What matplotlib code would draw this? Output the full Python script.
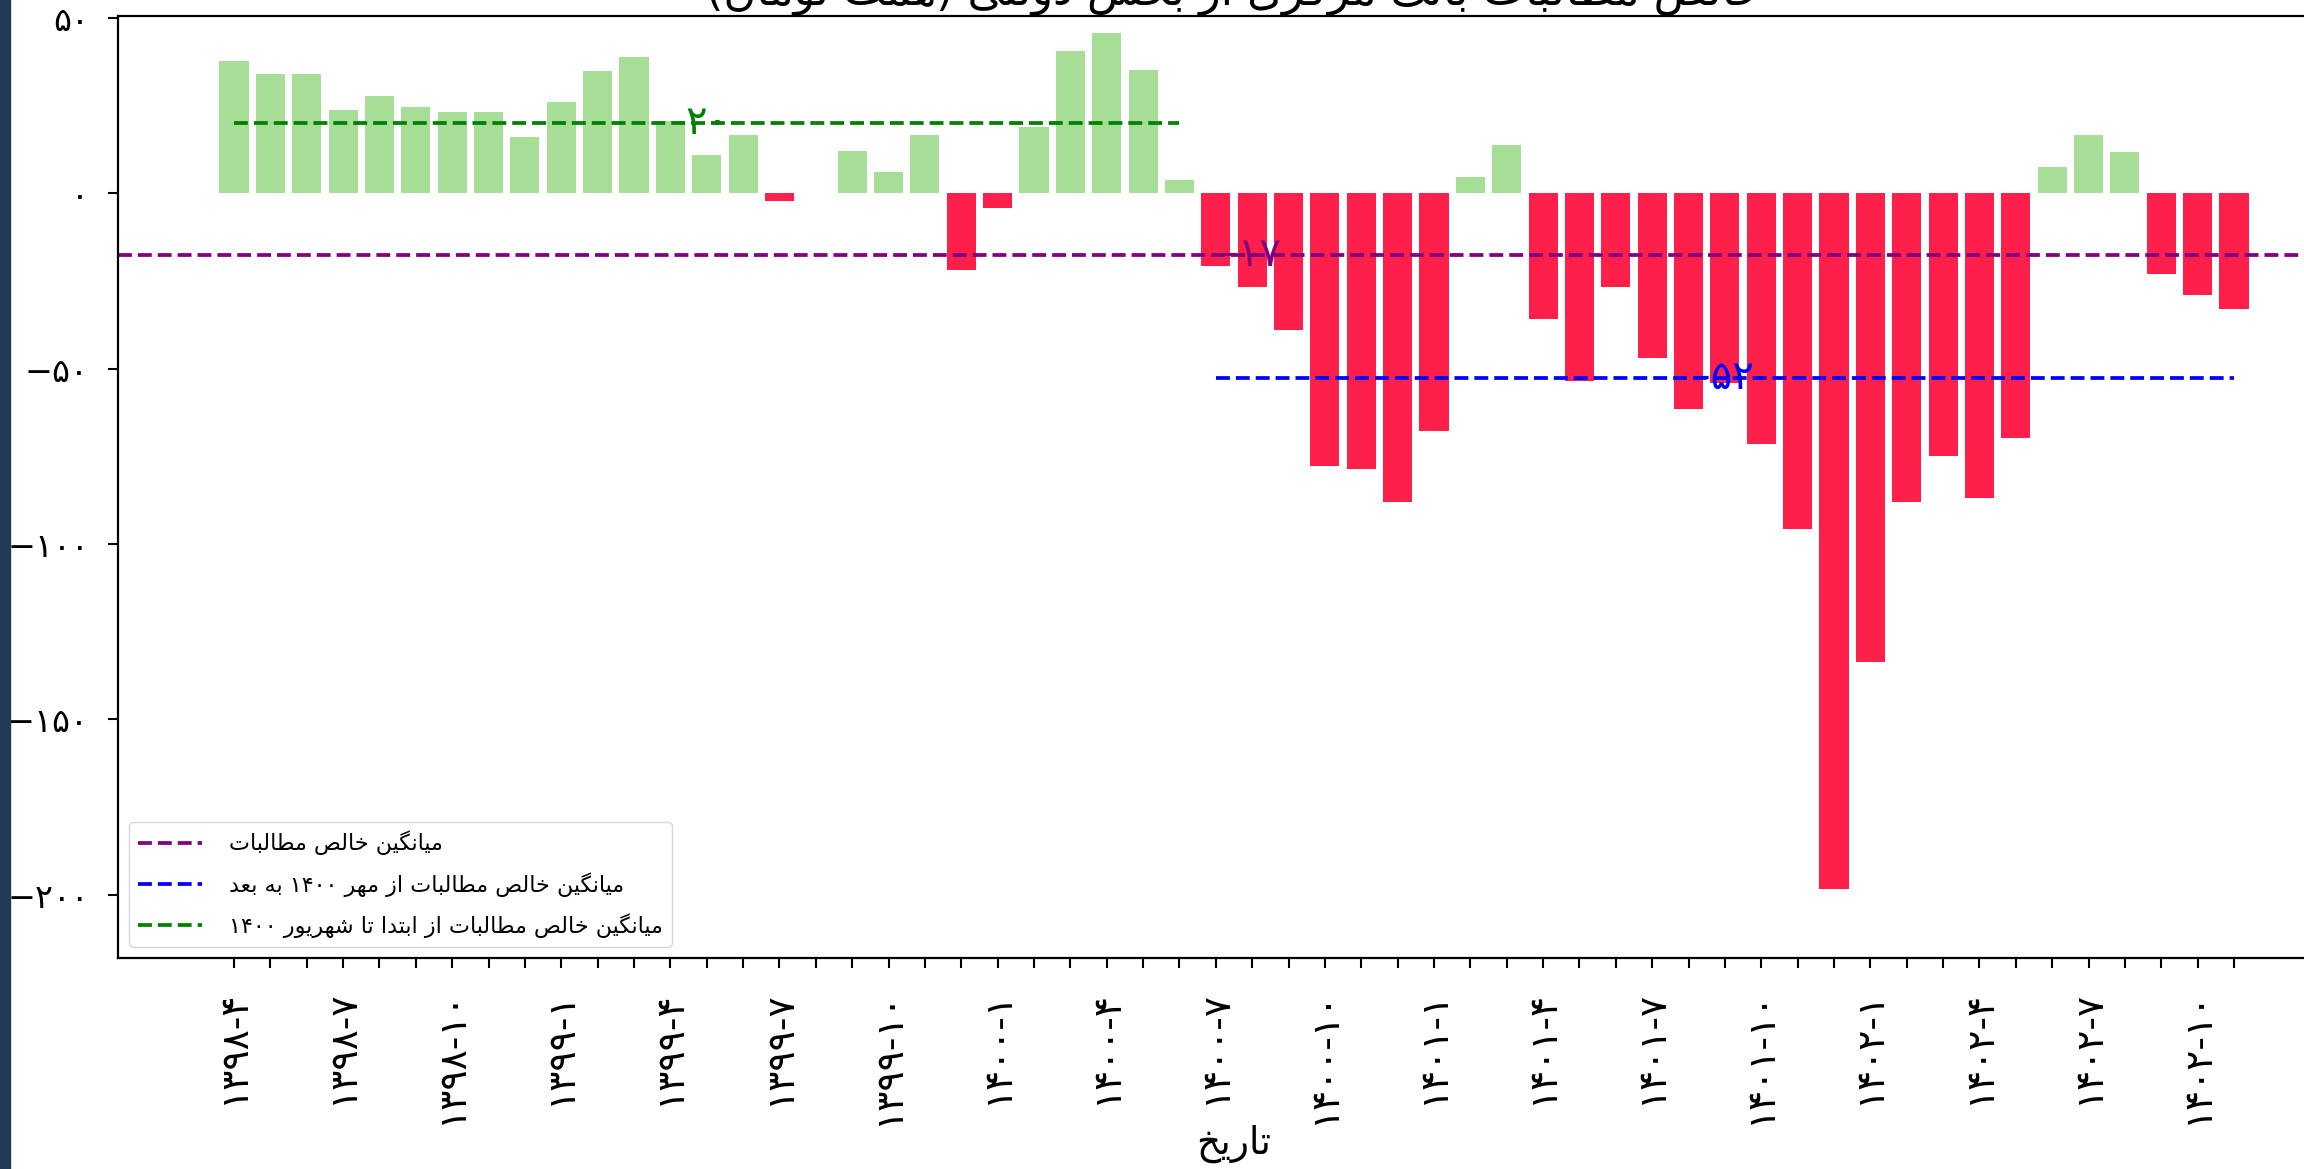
import re

import matplotlib.pyplot as plt
import numpy as np
from matplotlib.patches import Rectangle

plt.rcParams['font.family'] = ['DejaVu Sans']

# monthly net claims, 1398-4 .. 1402-11 (hemat toman)
years = [1398] * 9 + [1399] * 12 + [1400] * 12 + [1401] * 12 + [1402] * 11
months = list(range(4, 13)) + list(range(1, 13)) * 3 + list(range(1, 12))
values = [37.7, 33.9, 33.9, 23.8, 27.6, 24.7, 23.0, 23.0, 15.9,
          25.9, 34.7, 38.9, 20.5, 10.9, 16.7, -2.1, 0.0, 12.1, 5.9, 16.7, -22.0,
          -4.2, 18.8, 40.6, 45.6, 35.1, 3.8, -20.9, -26.8, -38.9, -77.8, -78.7, -87.9,
          -67.8, 4.6, 13.8, -36.0, -53.6, -26.8, -46.9, -61.5, -54.0, -71.5, -95.8, -198.3,
          -133.5, -87.9, -74.9, -87.0, -69.9, 7.5, 16.7, 11.7, -23.0, -28.9, -33.0]
split = 27  # first index from mehr 1400

title = 'خالص مطالبات بانک مرکزی از بخش دولتی (همت تومان)'
xlabel = 'تاریخ'
legend_labels = ['میانگین خالص مطالبات',
                 'میانگین خالص مطالبات از مهر ۱۴۰۰ به بعد',
                 'میانگین خالص مطالبات از ابتدا تا شهریور ۱۴۰۰']

FA_DIGITS = str.maketrans('0123456789', '۰۱۲۳۴۵۶۷۸۹')
# isolated, final, initial, medial
FORMS = {
    'ا': ('\uFE8D', '\uFE8E', None, None),
    'ب': ('\uFE8F', '\uFE90', '\uFE91', '\uFE92'),
    'ت': ('\uFE95', '\uFE96', '\uFE97', '\uFE98'),
    'خ': ('\uFEA5', '\uFEA6', '\uFEA7', '\uFEA8'),
    'د': ('\uFEA9', '\uFEAA', None, None),
    'ر': ('\uFEAD', '\uFEAE', None, None),
    'ز': ('\uFEAF', '\uFEB0', None, None),
    'ش': ('\uFEB5', '\uFEB6', '\uFEB7', '\uFEB8'),
    'ص': ('\uFEB9', '\uFEBA', '\uFEBB', '\uFEBC'),
    'ط': ('\uFEC1', '\uFEC2', '\uFEC3', '\uFEC4'),
    'ع': ('\uFEC9', '\uFECA', '\uFECB', '\uFECC'),
    'ل': ('\uFEDD', '\uFEDE', '\uFEDF', '\uFEE0'),
    'م': ('\uFEE1', '\uFEE2', '\uFEE3', '\uFEE4'),
    'ن': ('\uFEE5', '\uFEE6', '\uFEE7', '\uFEE8'),
    'ه': ('\uFEE9', '\uFEEA', '\uFEEB', '\uFEEC'),
    'و': ('\uFEED', '\uFEEE', None, None),
    'ی': ('\uFBFC', '\uFBFD', '\uFBFE', '\uFBFF'),
    'ک': ('\uFB8E', '\uFB8F', '\uFB90', '\uFB91'),
    'گ': ('\uFB92', '\uFB93', '\uFB94', '\uFB95'),
}


def fa(text):
    # join letters and put them in visual order (no bidi lib available)
    out = []
    for i, ch in enumerate(text):
        if ch not in FORMS:
            out.append(ch)
            continue
        prev = text[i - 1] if i > 0 else ''
        nxt = text[i + 1] if i + 1 < len(text) else ''
        p = prev in FORMS and FORMS[prev][2] is not None
        n = FORMS[ch][2] is not None and nxt in FORMS
        iso, fin, ini, med = FORMS[ch]
        out.append(med if p and n else fin if p else ini if n else iso)
    s = ''.join(out)
    runs = re.findall(r'[۰-۹]+|[^۰-۹]+', s)
    mirror = str.maketrans('()', ')(')
    return ''.join(r if r[0] in '۰۱۲۳۴۵۶۷۸۹' else r[::-1].translate(mirror)
                   for r in reversed(runs))


values = np.array(values)
x = np.arange(len(values))
colors = np.where(values >= 0, '#a6dd97', '#ff1f4b')

mean_all = values.mean()
mean_after = values[split:].mean()
mean_before = values[:split].mean()

fig = plt.figure(figsize=(23.04, 11.69), dpi=100)
fig.patches.append(Rectangle((0, 0), 10 / 2304, 1, transform=fig.transFigure,
                             color='#223a56', zorder=10))
ax = fig.add_axes([118 / 2304, 1 - 958 / 1169, 2232 / 2304, 942 / 1169])

ax.bar(x, values, width=0.8, color=colors)
ax.axhline(mean_all, color='purple', ls='--', lw=2.7, label=fa(legend_labels[0]))
ax.plot([split, len(values) - 1], [mean_after] * 2, color='blue', ls='--', lw=2.7,
        label=fa(legend_labels[1]))
ax.plot([0, split - 1], [mean_before] * 2, color='green', ls='--', lw=2.7,
        label=fa(legend_labels[2]))

ax.text(len(values) // 2, mean_all, str(int(mean_all)).translate(FA_DIGITS),
        color='purple', fontsize=29, ha='center', va='center')
ax.text((split + len(values) - 1) / 2, mean_after, str(int(mean_after)).translate(FA_DIGITS),
        color='blue', fontsize=29, ha='center', va='center')
ax.text((split - 1) / 2, mean_before, str(int(mean_before)).translate(FA_DIGITS),
        color='green', fontsize=29, ha='center', va='center')

ax.set_ylim(-218, 50.5)
yt = [-200, -150, -100, -50, 0, 50]
ax.set_yticks(yt)
ax.set_yticklabels([str(v).replace('-', '\u2212').translate(FA_DIGITS) for v in yt], fontsize=24)

ticklabels = [f'{y}-{m}'.translate(FA_DIGITS) if i % 3 == 0 else ''
              for i, (y, m) in enumerate(zip(years, months))]
ax.set_xticks(x)
ax.set_xticklabels(ticklabels, rotation=90, fontsize=27)
ax.tick_params(axis='x', length=7, width=1.5, pad=16)
ax.tick_params(axis='y', length=7, width=1.5, pad=14)
for s in ax.spines.values():
    s.set_linewidth(1.6)

ax.set_xlabel(fa(xlabel), fontsize=27, labelpad=0)
ax.set_title(fa(title), fontsize=32, pad=6)
ax.legend(loc='lower left', fontsize=16, handlelength=2.9, handletextpad=1.2,
          labelspacing=0.75)

fig.savefig('out.png', dpi=100)
